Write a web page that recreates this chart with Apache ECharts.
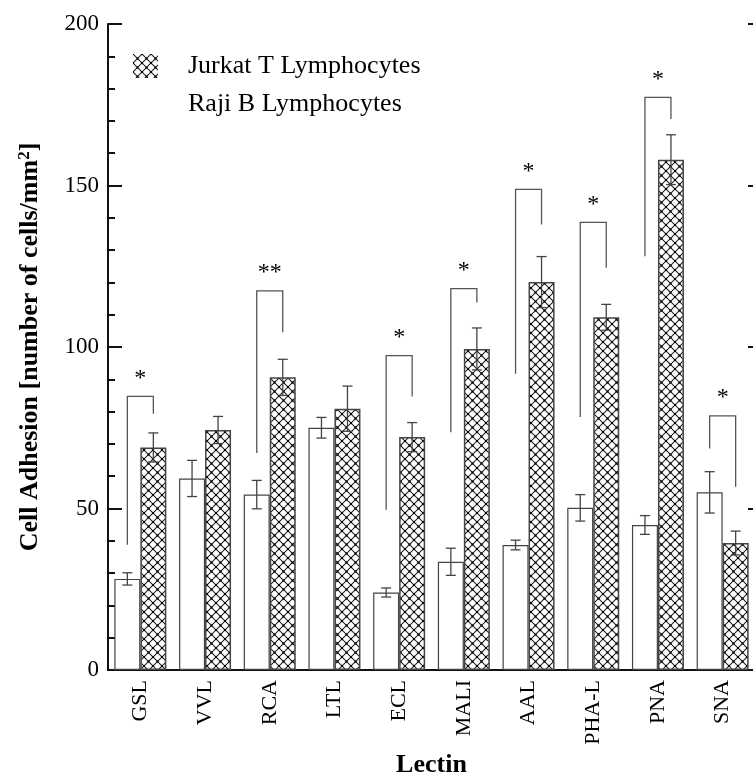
<!DOCTYPE html>
<html>
<head>
<meta charset="utf-8">
<script src="https://cdn.jsdelivr.net/npm/echarts@6/dist/echarts.min.js"></script>
<style>
  html, body { margin: 0; padding: 0; background: #fff; }
  #chart { width: 753px; height: 781px; }
</style>
</head>
<body>
<div id="chart"></div>
<script>
// lectins on the x axis
var lectins = ['GSL', 'VVL', 'RCA', 'LTL', 'ECL', 'MALI', 'AAL', 'PHA-L', 'PNA', 'SNA'];

// Raji B (white bars) and Jurkat T (hatched bars), mean +/- error
var rajiMean = [28.2, 59.3, 54.3, 75.0, 24.0, 33.5, 38.7, 50.2, 44.9, 55.0];
var rajiErr = [1.9, 5.6, 4.4, 3.2, 1.4, 4.2, 1.5, 4.1, 2.9, 6.4];
var jurkatMean = [68.9, 74.3, 90.6, 80.9, 72.1, 99.4, 120.1, 109.2, 158.0, 39.3];
var jurkatErr = [4.5, 4.2, 5.6, 7.0, 4.5, 6.5, 7.9, 4.0, 7.7, 3.7];

// significance brackets: [left end, top, right end] in axis units, null = none
var bracketLeft = [38.8, null, 67.2, null, 49.6, 73.6, 91.7, 78.3, 128.1, 68.6];
var bracketTop = [84.7, null, 117.4, null, 97.3, 118.1, 148.8, 138.6, 177.3, 78.7];
var bracketRight = [79.3, null, 104.6, null, 84.7, 113.8, 137.9, 124.5, 170.6, 56.7];
var sigMarks = ['*', '', '**', '', '*', '*', '*', '*', '*', '*'];

var yTicks = [0, 50, 100, 150, 200];

var SERIF = '"Liberation Serif", "DejaVu Serif", serif';
var BAR_W = 26;

// cross-hatch with dots at the crossings
function makeHatch() {
  var c = document.createElement('canvas');
  c.width = 9; c.height = 9;
  var ctx = c.getContext('2d');
  ctx.fillStyle = '#fff';
  ctx.fillRect(0, 0, 9, 9);
  ctx.strokeStyle = '#222';
  ctx.lineWidth = 1.1;
  ctx.beginPath();
  ctx.moveTo(0, 0); ctx.lineTo(9, 9);
  ctx.moveTo(9, 0); ctx.lineTo(0, 9);
  ctx.stroke();
  ctx.fillStyle = '#000';
  ctx.fillRect(3.5, 3.5, 2, 2);
  ctx.fillRect(-1, -1, 2, 2); ctx.fillRect(8, -1, 2, 2);
  ctx.fillRect(-1, 8, 2, 2); ctx.fillRect(8, 8, 2, 2);
  return c;
}
var hatch = { image: makeHatch(), repeat: 'repeat' };

function errData(means, errs) {
  return means.map(function (m, i) { return [i, m, errs[i]]; });
}

function errSeries(means, errs, offset) {
  return {
    type: 'custom',
    z: 5,
    silent: true,
    data: errData(means, errs),
    encode: { x: 0, y: 1 },
    renderItem: function (params, api) {
      var i = api.value(0), m = api.value(1), e = api.value(2);
      var x = api.coord([i, m])[0] + offset;
      var hi = api.coord([i, m + e])[1];
      var lo = api.coord([i, m - e])[1];
      var st = { stroke: '#444', lineWidth: 1.3 };
      return {
        type: 'group',
        children: [
          { type: 'line', shape: { x1: x, y1: hi, x2: x, y2: lo }, style: st },
          { type: 'line', shape: { x1: x - 5, y1: hi, x2: x + 5, y2: hi }, style: st },
          { type: 'line', shape: { x1: x - 5, y1: lo, x2: x + 5, y2: lo }, style: st }
        ]
      };
    }
  };
}

var bracketData = [];
lectins.forEach(function (l, i) {
  if (bracketTop[i] != null) bracketData.push([i, bracketLeft[i], bracketTop[i], bracketRight[i]]);
});

var chart = echarts.init(document.getElementById('chart'));

chart.setOption({
  animation: false,
  backgroundColor: '#fff',
  grid: { left: 108, top: 24, width: 647, height: 646, outerBoundsMode: 'none', containLabel: false },
  legend: {
    left: 133,
    top: 53,
    padding: 0,
    orient: 'vertical',
    itemWidth: 25,
    itemHeight: 24,
    itemGap: 12,
    icon: 'rect',
    selectedMode: false,
    textStyle: { fontFamily: SERIF, fontSize: 26, color: '#000', padding: [0, 0, 0, 25], lineHeight: 24 },
    data: [
      { name: 'Jurkat T Lymphocytes', itemStyle: { borderWidth: 0 } },
      { name: 'Raji B Lymphocytes', itemStyle: { borderWidth: 0 } }
    ]
  },
  xAxis: [
    {
      type: 'category',
      data: lectins,
      position: 'bottom',
      name: 'Lectin',
      nameLocation: 'middle',
      nameGap: 81,
      nameTextStyle: { fontFamily: SERIF, fontSize: 26, fontWeight: 'bold', color: '#000' },
      axisLine: { lineStyle: { color: '#111', width: 2 } },
      axisTick: { inside: true, length: 12, lineStyle: { color: '#111', width: 2 } },
      axisLabel: { rotate: 90, margin: 10, fontFamily: SERIF, fontSize: 22, color: '#000' }
    },
    {
      type: 'category',
      data: lectins,
      position: 'top',
      axisLine: { lineStyle: { color: '#111', width: 2 } },
      axisTick: { inside: true, length: 12, lineStyle: { color: '#111', width: 2 } },
      axisLabel: { show: false }
    }
  ],
  yAxis: [
    {
      type: 'value',
      min: yTicks[0],
      max: yTicks[yTicks.length - 1],
      interval: yTicks[1] - yTicks[0],
      name: '{a|Cell Adhesion [number of cells/mm}{s|2}{a|]}',
      nameLocation: 'middle',
      nameGap: 64,
      nameTextStyle: {
        rich: {
          a: { fontFamily: SERIF, fontSize: 26, fontWeight: 'bold', color: '#000', lineHeight: 28 },
          s: { fontFamily: SERIF, fontSize: 17, fontWeight: 'bold', color: '#000', verticalAlign: 'top', lineHeight: 17 }
        }
      },
      axisLine: { show: true, lineStyle: { color: '#111', width: 2 } },
      axisTick: { show: true, inside: true, length: 14, lineStyle: { color: '#111', width: 2 } },
      minorTick: { show: true, splitNumber: 5, length: 7, lineStyle: { color: '#111', width: 2 } },
      splitLine: { show: false },
      axisLabel: { margin: 9, fontFamily: SERIF, fontSize: 23, color: '#000' }
    },
    {
      type: 'value',
      position: 'right',
      min: yTicks[0],
      max: yTicks[yTicks.length - 1],
      interval: yTicks[1] - yTicks[0],
      axisLine: { show: true, lineStyle: { color: '#111', width: 2 } },
      axisTick: { show: true, inside: true, length: 7, lineStyle: { color: '#111', width: 2 } },
      splitLine: { show: false },
      axisLabel: { show: false }
    }
  ],
  series: [
    {
      name: 'Raji B Lymphocytes',
      type: 'bar',
      data: rajiMean,
      barWidth: BAR_W,
      barGap: '0%',
      itemStyle: { color: '#fff', borderColor: '#444', borderWidth: 1.2 }
    },
    {
      name: 'Jurkat T Lymphocytes',
      type: 'bar',
      data: jurkatMean,
      barWidth: BAR_W,
      barGap: '0%',
      itemStyle: { color: hatch, borderColor: '#444', borderWidth: 1.5 }
    },
    errSeries(rajiMean, rajiErr, -BAR_W / 2),
    errSeries(jurkatMean, jurkatErr, BAR_W / 2),
    {
      type: 'custom',
      z: 6,
      silent: true,
      data: bracketData,
      encode: { x: 0, y: [1, 2, 3] },
      renderItem: function (params, api) {
        var i = api.value(0);
        var xl = api.coord([i, 0])[0] - BAR_W / 2;
        var xr = xl + BAR_W;
        var yl = api.coord([i, api.value(1)])[1];
        var yt = api.coord([i, api.value(2)])[1];
        var yr = api.coord([i, api.value(3)])[1];
        return {
          type: 'group',
          children: [
            {
              type: 'polyline',
              shape: { points: [[xl, yl], [xl, yt], [xr, yt], [xr, yr]] },
              style: { stroke: '#555', lineWidth: 1.3, fill: null }
            },
            {
              type: 'text',
              style: {
                text: sigMarks[i],
                x: (xl + xr) / 2,
                y: yt - 18,
                align: 'center',
                verticalAlign: 'middle',
                font: '24px ' + SERIF,
                fill: '#000'
              }
            }
          ]
        };
      }
    }
  ]
});
</script>
</body>
</html>
